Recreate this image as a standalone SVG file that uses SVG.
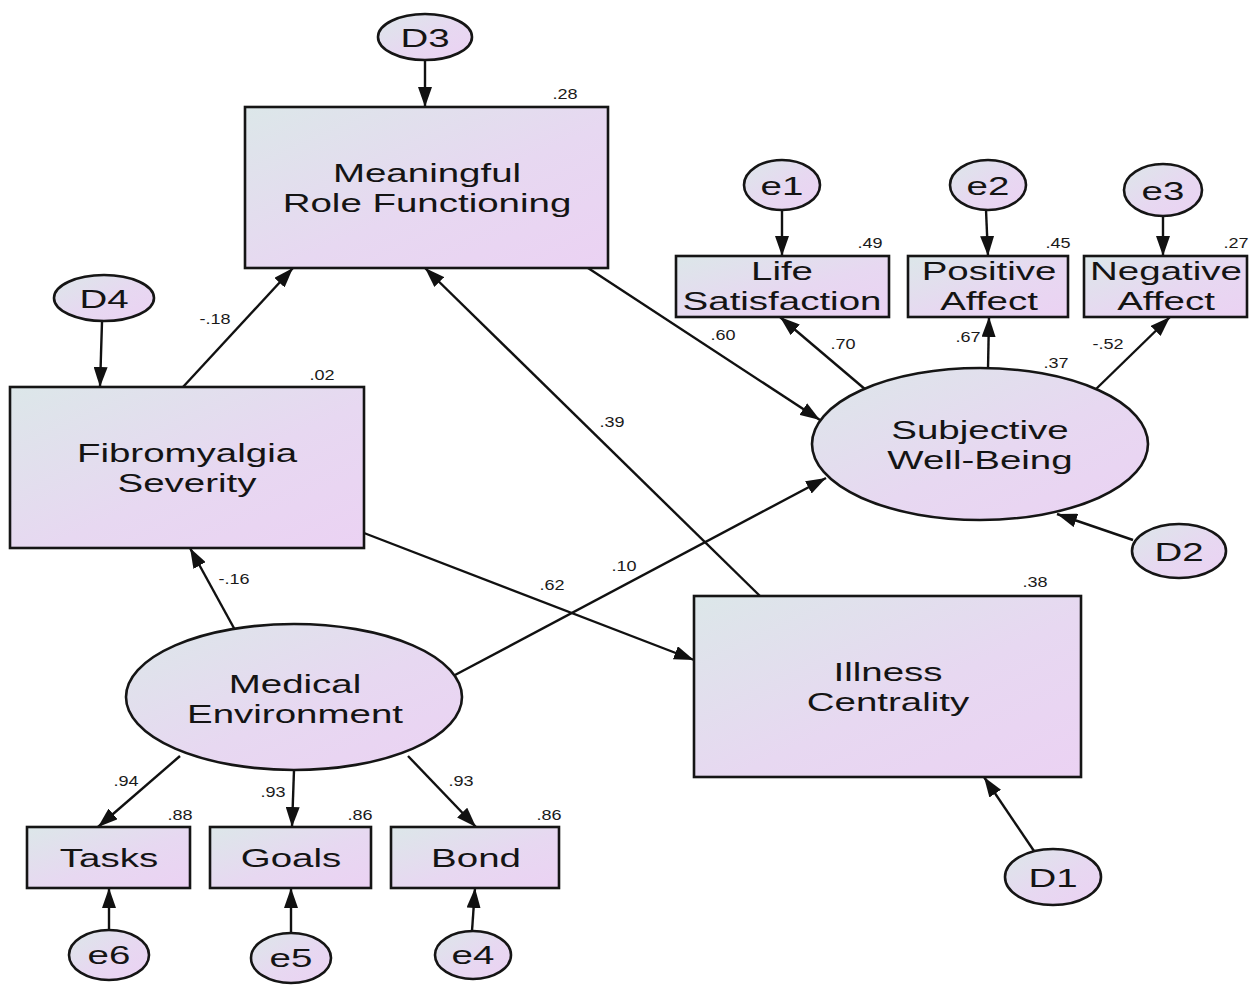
<svg xmlns="http://www.w3.org/2000/svg" width="1258" height="993" viewBox="0 0 1258 993">
  <defs>
    <linearGradient id="fill" x1="0" y1="0" x2="1" y2="1">
      <stop offset="0" stop-color="#dce7e9"/>
      <stop offset="0.55" stop-color="#e7d8f1"/>
      <stop offset="1" stop-color="#ebd2f3"/>
    </linearGradient>
    <marker id="arrow" viewBox="0 0 20 14" refX="20" refY="7" markerWidth="20" markerHeight="14" markerUnits="userSpaceOnUse" orient="auto">
      <path d="M0,0 L20,7 L0,14 z" fill="#111"/>
    </marker>
  </defs>
  <style>
    .box, .oval { fill: url(#fill); stroke: #151515; stroke-width: 2.6; }
    .lbl { font-family: "Liberation Sans", Arial, sans-serif; font-size: 26px; fill: #141414; text-anchor: middle; }
    .num { font-family: "Liberation Sans", Arial, sans-serif; font-size: 14px; fill: #1a1a1a; text-anchor: middle; }
    .edge { stroke: #111; stroke-width: 2.4; fill: none; marker-end: url(#arrow); }
  </style>
  <rect width="1258" height="993" fill="#ffffff"/>

  <!-- paths between variables -->
  <g id="connectors">
    <line class="edge" x1="425" y1="60" x2="425" y2="107"/>
    <line class="edge" x1="102" y1="322" x2="100" y2="387"/>
    <line class="edge" x1="183" y1="387" x2="293" y2="268"/>
    <line class="edge" x1="235" y1="630" x2="190" y2="548"/>
    <line class="edge" x1="455" y1="675" x2="826" y2="478"/>
    <line class="edge" x1="180" y1="756" x2="98" y2="827"/>
    <line class="edge" x1="294" y1="770" x2="292" y2="827"/>
    <line class="edge" x1="408" y1="756" x2="476" y2="827"/>
    <line class="edge" x1="109" y1="931" x2="109" y2="888"/>
    <line class="edge" x1="291" y1="933" x2="291" y2="888"/>
    <line class="edge" x1="472" y1="931" x2="475" y2="888"/>
    <line class="edge" x1="364" y1="533" x2="694" y2="660"/>
    <line class="edge" x1="760" y1="596" x2="425" y2="268"/>
    <line class="edge" x1="1034" y1="851" x2="984" y2="777"/>
    <line class="edge" x1="588" y1="268" x2="820" y2="420"/>
    <line class="edge" x1="1133" y1="540" x2="1057" y2="514"/>
    <line class="edge" x1="782" y1="210" x2="782" y2="256"/>
    <line class="edge" x1="986" y1="210" x2="988" y2="256"/>
    <line class="edge" x1="1163" y1="216" x2="1163" y2="256"/>
    <line class="edge" x1="866" y1="390" x2="780" y2="317"/>
    <line class="edge" x1="988" y1="369" x2="989" y2="317"/>
    <line class="edge" x1="1095" y1="390" x2="1170" y2="317"/>
  </g>

  <!-- path coefficients -->
  <g id="coefficients">
    <text class="num" transform="translate(215,324) scale(1.29,1)">-.18</text>
    <text class="num" transform="translate(234,584) scale(1.29,1)">-.16</text>
    <text class="num" transform="translate(624,571) scale(1.29,1)">.10</text>
    <text class="num" transform="translate(552,590) scale(1.29,1)">.62</text>
    <text class="num" transform="translate(612,427) scale(1.29,1)">.39</text>
    <text class="num" transform="translate(723,340) scale(1.29,1)">.60</text>
    <text class="num" transform="translate(843,349) scale(1.29,1)">.70</text>
    <text class="num" transform="translate(968,342) scale(1.29,1)">.67</text>
    <text class="num" transform="translate(1108,349) scale(1.29,1)">-.52</text>
    <text class="num" transform="translate(126,786) scale(1.29,1)">.94</text>
    <text class="num" transform="translate(273,797) scale(1.29,1)">.93</text>
    <text class="num" transform="translate(461,786) scale(1.29,1)">.93</text>
  </g>

  <!-- squared multiple correlations -->
  <g id="r-squared">
    <text class="num" transform="translate(565,99) scale(1.29,1)">.28</text>
    <text class="num" transform="translate(322,380) scale(1.29,1)">.02</text>
    <text class="num" transform="translate(1035,587) scale(1.29,1)">.38</text>
    <text class="num" transform="translate(1056,368) scale(1.29,1)">.37</text>
    <text class="num" transform="translate(870,248) scale(1.29,1)">.49</text>
    <text class="num" transform="translate(1058,248) scale(1.29,1)">.45</text>
    <text class="num" transform="translate(1236,248) scale(1.29,1)">.27</text>
    <text class="num" transform="translate(180,820) scale(1.29,1)">.88</text>
    <text class="num" transform="translate(360,820) scale(1.29,1)">.86</text>
    <text class="num" transform="translate(549,820) scale(1.29,1)">.86</text>
  </g>

  <g id="D3">
    <ellipse class="oval" cx="425" cy="37" rx="47" ry="23"/>
    <text class="lbl" transform="translate(425,47) scale(1.48,1)">D3</text>
  </g>
  <g id="meaningful-role-functioning">
    <rect class="box" x="245" y="107" width="363" height="161"/>
    <text class="lbl" transform="translate(427,182) scale(1.48,1)">Meaningful</text>
    <text class="lbl" transform="translate(427,212) scale(1.48,1)">Role Functioning</text>
  </g>
  <g id="D4">
    <ellipse class="oval" cx="104" cy="298" rx="50" ry="23"/>
    <text class="lbl" transform="translate(104,308) scale(1.48,1)">D4</text>
  </g>
  <g id="fibromyalgia-severity">
    <rect class="box" x="10" y="387" width="354" height="161"/>
    <text class="lbl" transform="translate(187,462) scale(1.48,1)">Fibromyalgia</text>
    <text class="lbl" transform="translate(187,492) scale(1.48,1)">Severity</text>
  </g>
  <g id="medical-environment">
    <ellipse class="oval" cx="294" cy="697" rx="168" ry="73"/>
    <text class="lbl" transform="translate(295,693) scale(1.48,1)">Medical</text>
    <text class="lbl" transform="translate(295,723) scale(1.48,1)">Environment</text>
  </g>
  <g id="tasks">
    <rect class="box" x="27" y="827" width="163" height="61"/>
    <text class="lbl" transform="translate(109,867) scale(1.48,1)">Tasks</text>
  </g>
  <g id="goals">
    <rect class="box" x="210" y="827" width="161" height="61"/>
    <text class="lbl" transform="translate(291,867) scale(1.48,1)">Goals</text>
  </g>
  <g id="bond">
    <rect class="box" x="391" y="827" width="168" height="61"/>
    <text class="lbl" transform="translate(476,867) scale(1.48,1)">Bond</text>
  </g>
  <g id="e6">
    <ellipse class="oval" cx="109" cy="955" rx="40" ry="25"/>
    <text class="lbl" transform="translate(109,964) scale(1.48,1)">e6</text>
  </g>
  <g id="e5">
    <ellipse class="oval" cx="291" cy="958" rx="40" ry="25"/>
    <text class="lbl" transform="translate(291,967) scale(1.48,1)">e5</text>
  </g>
  <g id="e4">
    <ellipse class="oval" cx="473" cy="955" rx="38" ry="24"/>
    <text class="lbl" transform="translate(473,964) scale(1.48,1)">e4</text>
  </g>
  <g id="illness-centrality">
    <rect class="box" x="694" y="596" width="387" height="181"/>
    <text class="lbl" transform="translate(888,681) scale(1.48,1)">Illness</text>
    <text class="lbl" transform="translate(888,711) scale(1.48,1)">Centrality</text>
  </g>
  <g id="D1">
    <ellipse class="oval" cx="1053" cy="877" rx="48" ry="28"/>
    <text class="lbl" transform="translate(1053,887) scale(1.48,1)">D1</text>
  </g>
  <g id="subjective-well-being">
    <ellipse class="oval" cx="980" cy="444" rx="168" ry="76"/>
    <text class="lbl" transform="translate(980,439) scale(1.48,1)">Subjective</text>
    <text class="lbl" transform="translate(980,469) scale(1.48,1)">Well-Being</text>
  </g>
  <g id="D2">
    <ellipse class="oval" cx="1179" cy="551" rx="47" ry="27"/>
    <text class="lbl" transform="translate(1179,561) scale(1.48,1)">D2</text>
  </g>
  <g id="life-satisfaction">
    <rect class="box" x="676" y="256" width="213" height="61"/>
    <text class="lbl" transform="translate(782,280) scale(1.48,1)">Life</text>
    <text class="lbl" transform="translate(782,310) scale(1.48,1)">Satisfaction</text>
  </g>
  <g id="positive-affect">
    <rect class="box" x="908" y="256" width="160" height="61"/>
    <text class="lbl" transform="translate(989,280) scale(1.48,1)">Positive</text>
    <text class="lbl" transform="translate(989,310) scale(1.48,1)">Affect</text>
  </g>
  <g id="negative-affect">
    <rect class="box" x="1084" y="256" width="163" height="61"/>
    <text class="lbl" transform="translate(1166,280) scale(1.48,1)">Negative</text>
    <text class="lbl" transform="translate(1166,310) scale(1.48,1)">Affect</text>
  </g>
  <g id="e1">
    <ellipse class="oval" cx="782" cy="185" rx="38" ry="25"/>
    <text class="lbl" transform="translate(782,195) scale(1.48,1)">e1</text>
  </g>
  <g id="e2">
    <ellipse class="oval" cx="988" cy="185" rx="38" ry="25"/>
    <text class="lbl" transform="translate(988,195) scale(1.48,1)">e2</text>
  </g>
  <g id="e3">
    <ellipse class="oval" cx="1163" cy="190" rx="39" ry="26"/>
    <text class="lbl" transform="translate(1163,200) scale(1.48,1)">e3</text>
  </g>
</svg>
